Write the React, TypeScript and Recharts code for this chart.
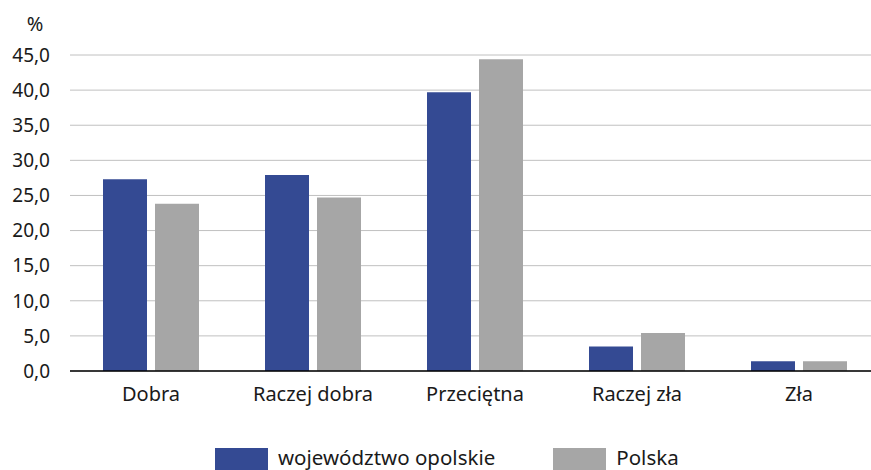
import { BarChart, Bar, XAxis, YAxis, CartesianGrid } from "recharts";

const categories = ["Dobra", "Raczej dobra", "Przeciętna", "Raczej zła", "Zła"];
const opolskie = [27.3, 27.9, 39.7, 3.5, 1.4];
const polska = [23.8, 24.7, 44.4, 5.4, 1.4];
const yTicks = [0, 5, 10, 15, 20, 25, 30, 35, 40, 45];

const series = [
  { key: "opolskie", name: "województwo opolskie", color: "#344a93" },
  { key: "polska", name: "Polska", color: "#a6a6a6" },
];

const data = categories.map((name, i) => ({
  name,
  opolskie: opolskie[i],
  polska: polska[i],
}));

const font = "'Noto Sans', 'Open Sans', sans-serif";

function PercentLabel({ viewBox }: any) {
  if (!viewBox) return null;
  return (
    <text x={viewBox.x + 35} y={viewBox.y - 24} textAnchor="middle" fontSize={20} fill="#1a1a1a" fontFamily={font}>
      %
    </text>
  );
}

export default function App() {
  return (
    <div style={{ position: "absolute", left: 0, top: 0, width: 871, height: 470, overflow: "hidden", background: "#fff" }}>
      <BarChart
        width={890}
        height={480}
        data={data}
        margin={{ top: 55, right: 10, bottom: 69, left: 0 }}
        barGap={8}
        barSize={44}
      >
        <CartesianGrid vertical={false} stroke="#c0c0c0" strokeWidth={1} />
        <XAxis
          dataKey="name"
          height={40}
          tickLine={false}
          axisLine={{ stroke: "#000", strokeWidth: 1.5 }}
          tickSize={0}
          tickMargin={16}
          tick={{ fontSize: 20, fill: "#1a1a1a", fontFamily: font }}
        />
        <YAxis
          width={70}
          domain={[0, 45]}
          ticks={yTicks}
          interval={0}
          axisLine={false}
          tickLine={false}
          tickSize={0}
          tickMargin={20}
          tick={{ fontSize: 19, fill: "#1a1a1a", fontFamily: font }}
          tickFormatter={(v: number) => v.toFixed(1).replace(".", ",")}
          label={<PercentLabel />}
        />
        {series.map((s) => (
          <Bar key={s.key} dataKey={s.key} name={s.name} fill={s.color} isAnimationActive={false} />
        ))}
      </BarChart>
      <div style={{ position: "absolute", top: 444, left: 215, display: "flex", fontFamily: font, fontSize: 20.5, color: "#1a1a1a" }}>
        {series.map((s, i) => (
          <div key={s.key} style={{ display: "flex", alignItems: "flex-start", marginRight: i === 0 ? 58 : 0 }}>
            <div style={{ width: 53, height: 26, marginTop: 4, background: s.color, marginRight: 10 }} />
            <span style={{ lineHeight: "26px" }}>{s.name}</span>
          </div>
        ))}
      </div>
    </div>
  );
}
